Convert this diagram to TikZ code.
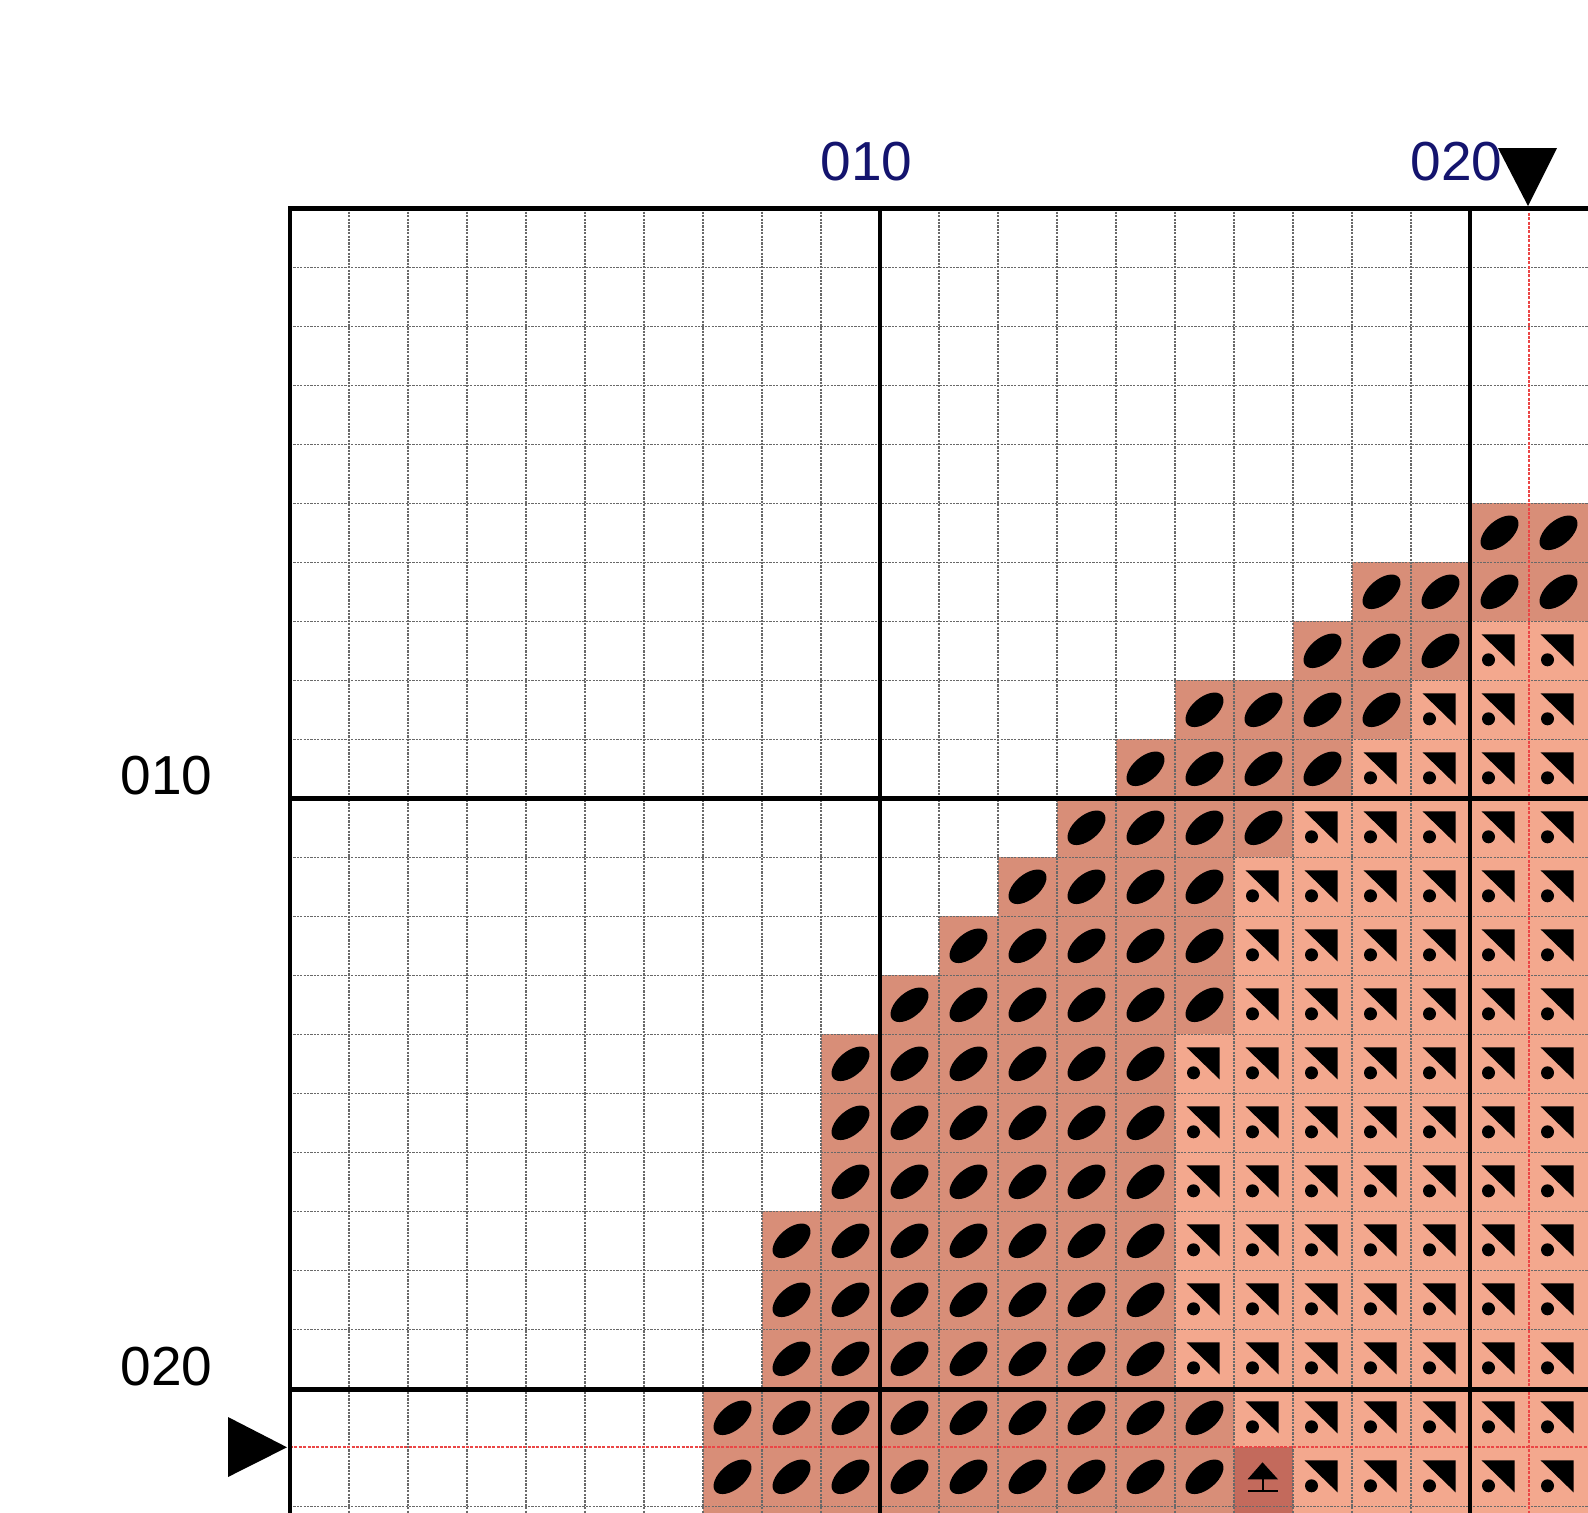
\documentclass[tikz,border=0pt]{standalone}
\usepackage{fontspec}
\setmainfont{Liberation Sans}
\definecolor{ellbg}{RGB}{216,142,120}
\definecolor{diabg}{RGB}{243,168,142}
\definecolor{arrbg}{RGB}{195,106,92}
\definecolor{gridgray}{RGB}{105,105,105}
\definecolor{redline}{RGB}{235,70,70}
\definecolor{navy}{RGB}{20,20,110}
\tikzset{
  fineline/.style={draw=gridgray, line width=1.6pt, dash pattern=on 2.2pt off 1.2pt},
  centreline/.style={draw=redline, line width=1.9pt, dash pattern=on 3pt off 1.4pt},
  boldline/.style={draw=black, line width=4.8pt, line join=miter},
  numlabel/.style={font=\fontsize{55}{60}\selectfont, inner sep=0pt},
  marker/.style={fill=black},
}
\newcommand\cellfill[3]{\fill[#3] ({290+59*#1},{208.3+59*#2}) rectangle ++(59,59);}
\newcommand\ellsym[2]{\fill[rotate around={40:({319.5+59*#1},{237.8+59*#2})}] ({319.5+59*#1},{237.8+59*#2}) ellipse [x radius=22.5, y radius=12.3];}
\newcommand\diasym[2]{\begin{scope}[shift={({290+59*#1},{208.3+59*#2})}]
  \fill (11.5,13) -- (44.5,13) -- (44.5,45) -- cycle;
  \fill (18.5,38.5) circle [radius=6.5];
\end{scope}}
\newcommand\arrsym[2]{\begin{scope}[shift={({290+59*#1},{208.3+59*#2})}]
  \fill (28.5,15) -- (44,32) -- (13.5,32) -- cycle;
  \fill (27.5,31) rectangle (29.5,44.5);
  \fill (13.5,43) rectangle (43.5,44.6);
\end{scope}}
\begin{document}
\begin{tikzpicture}[x=1pt,y=-1pt]
\useasboundingbox (0,0) rectangle (1588,1513);
\fill[white] (0,0) rectangle (1588,1513);
\begin{scope}
  \clip (290,208.3) rectangle (1588,1513);
  % coloured cells: row / first ellipse col / last ellipse col / first diagonal col
  \foreach \j/\s/\e/\d in {5/20/21/22, 6/18/21/22, 7/17/19/20, 8/15/18/19, 9/14/17/18,
      10/13/16/17, 11/12/15/16, 12/11/15/16, 13/10/15/16, 14/9/14/15, 15/9/14/15,
      16/9/14/15, 17/8/14/15, 18/8/14/15, 19/8/14/15, 20/7/15/16, 21/7/15/17, 22/7/15/17} {
    \foreach \i in {\s,...,\e} {\cellfill{\i}{\j}{ellbg}\ellsym{\i}{\j}}
    \ifnum\d<22
      \foreach \i in {\d,...,21} {\cellfill{\i}{\j}{diabg}\diasym{\i}{\j}}
    \fi
  }
  \cellfill{16}{21}{arrbg}\arrsym{16}{21}
  \cellfill{16}{22}{arrbg}
  % fine grid (index 21 is the red centre line)
  \foreach \i in {1,...,20} {\draw[fineline] ({290+59*\i},208.3) -- ({290+59*\i},1513);}
  \foreach \j in {1,...,20,22} {\draw[fineline] (290,{208.3+59*\j}) -- (1588,{208.3+59*\j});}
  % centre lines
  \draw[centreline] (1529,208.3) -- (1529,1513);
  \draw[centreline] (290,1447.3) -- (1588,1447.3);
\end{scope}
% bold lines every ten cells
\draw[boldline] (290,1513) -- (290,208.3) -- (1588,208.3);
\draw[boldline] (880,208.3) -- (880,1513);
\draw[boldline] (1470,208.3) -- (1470,1513);
\draw[boldline] (290,798.3) -- (1588,798.3);
\draw[boldline] (290,1389.3) -- (1588,1389.3);
% centre markers
\fill[marker] (1498,148) -- (1557,148) -- (1528,206) -- cycle;
\fill[marker] (228,1417) -- (228,1477) -- (287,1447.3) -- cycle;
% labels
\node[numlabel, text=navy] (top10) at (866.7,161.7) {010};
\node[numlabel, text=navy] (top20) at (1456.7,161.7) {020};
\node[numlabel] (left10) at (166.7,776) {010};
\node[numlabel] (left20) at (166.7,1366.7) {020};
\end{tikzpicture}
\end{document}
